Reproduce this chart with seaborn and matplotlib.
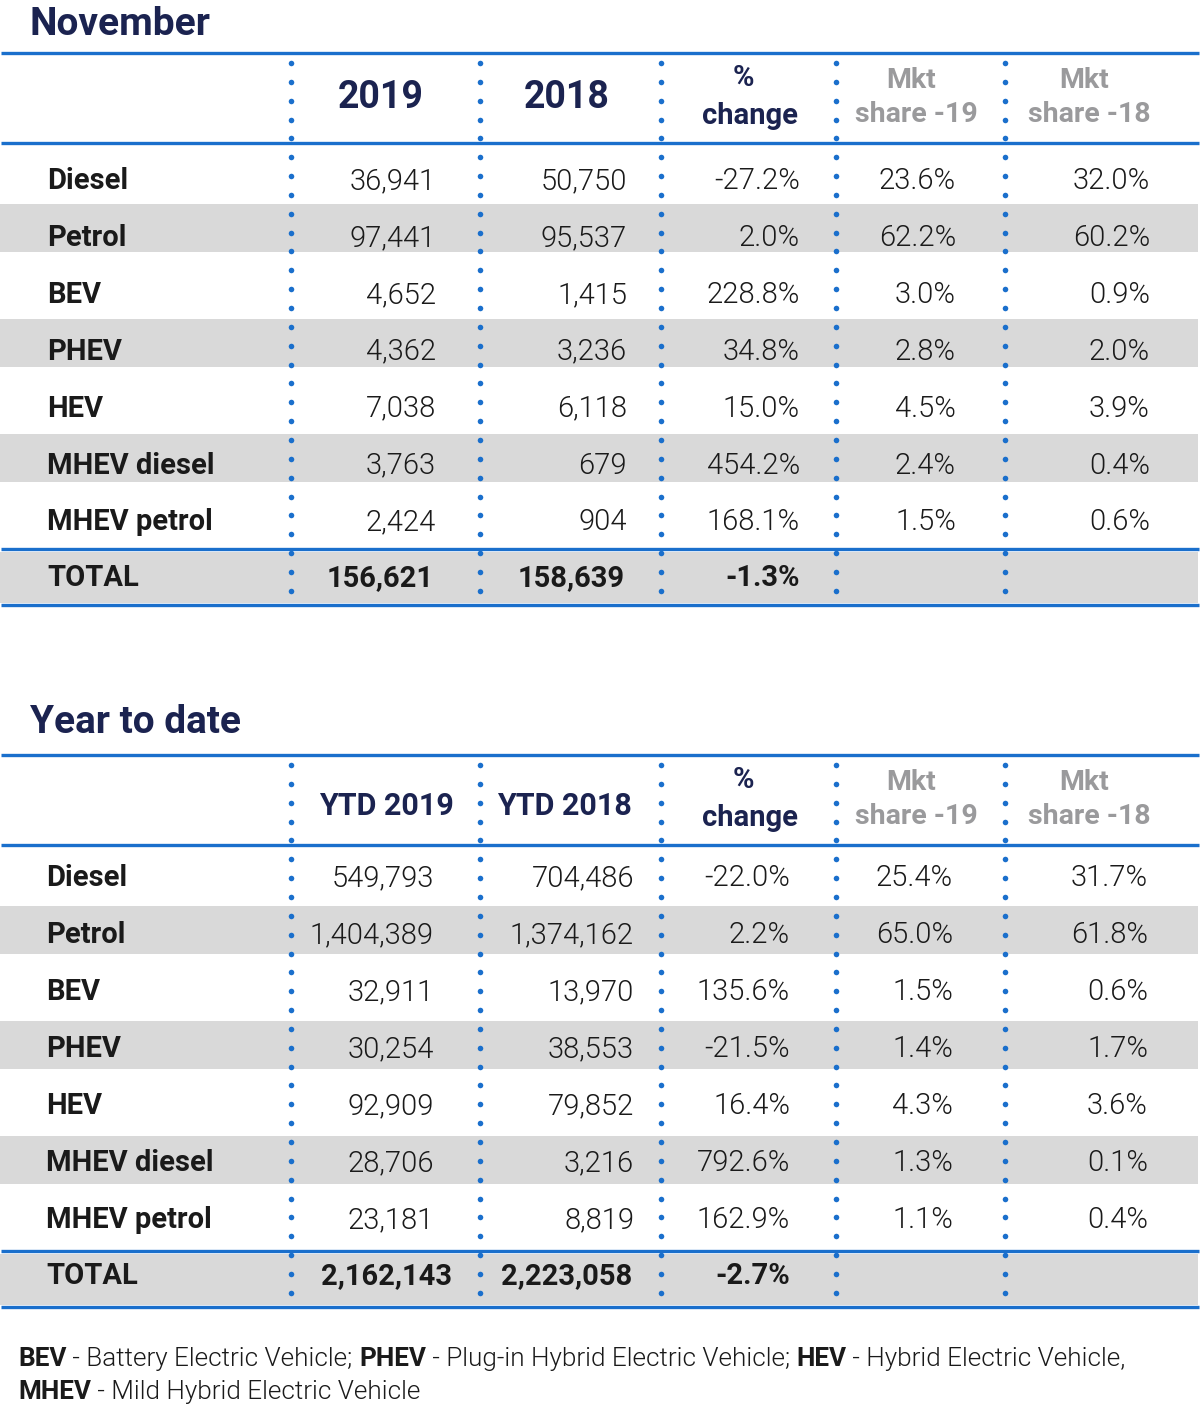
import numpy as np
import pandas as pd
import matplotlib
matplotlib.use("Agg")
import matplotlib.pyplot as plt
import seaborn as sns

# ---------------- data ----------------
categories = ["Diesel", "Petrol", "BEV", "PHEV", "HEV", "MHEV diesel", "MHEV petrol"]
total_label = "TOTAL"

nov_2019 = [36941, 97441, 4652, 4362, 7038, 3763, 2424]
nov_2018 = [50750, 95537, 1415, 3236, 6118, 679, 904]
nov_change = [-27.2, 2.0, 228.8, 34.8, 15.0, 454.2, 168.1]
nov_share_19 = [23.6, 62.2, 3.0, 2.8, 4.5, 2.4, 1.5]
nov_share_18 = [32.0, 60.2, 0.9, 2.0, 3.9, 0.4, 0.6]
nov_total = [156621, 158639, -1.3]

ytd_2019 = [549793, 1404389, 32911, 30254, 92909, 28706, 23181]
ytd_2018 = [704486, 1374162, 13970, 38553, 79852, 3216, 8819]
ytd_change = [-22.0, 2.2, 135.6, -21.5, 16.4, 792.6, 162.9]
ytd_share_19 = [25.4, 65.0, 1.5, 1.4, 4.3, 1.3, 1.1]
ytd_share_18 = [31.7, 61.8, 0.6, 1.7, 3.6, 0.1, 0.4]
ytd_total = [2162143, 2223058, -2.7]

section_titles = ["November", "Year to date"]
nov_headers = ["2019", "2018"]
ytd_headers = ["YTD 2019", "YTD 2018"]
change_header = ["%", "change"]
share_headers = [["Mkt", "share -19"], ["Mkt", "share -18"]]

footnote_lines = [
    [("BEV", True), (" - Battery Electric Vehicle; ", False), ("PHEV", True),
     (" - Plug-in Hybrid Electric Vehicle; ", False), ("HEV", True),
     (" - Hybrid Electric Vehicle,", False)],
    [("MHEV", True), (" - Mild Hybrid Electric Vehicle", False)],
]

# ---------------- style ----------------
sns.set_theme(style="white")
plt.rcParams["font.family"] = ["Roboto", "DejaVu Sans"]

BLUE = "#1a6fcc"
NAVY = "#1b2350"
GREY_TXT = "#9a9a9c"
BAND = "#d9d9d9"
TXT = "#1a1a1a"
LIGHT = 300

W, H = 1200, 1408
fig = plt.figure(figsize=(W / 100, H / 100), dpi=100)
ax = fig.add_axes([0, 0, 1, 1])
ax.set_xlim(0, W)
ax.set_ylim(H, 0)
ax.axis("off")

sep_x = [291, 480, 661, 836, 1005]
PITCH = 57.5
BAND_H = 48


def fmt_int(v):
    return f"{v:,}"


def fmt_pct(v):
    return f"{v:.1f}%"


def draw_section(off, title, title_base, year_headers, year_size, cols, total,
                 right_edges, total_right, text_off, total_off, label_x, hdr_y, hdr_x):
    # title
    ax.text(30, title_base, title, fontsize=28, fontweight="bold",
            color=NAVY, ha="left", va="baseline")
    top_line = 52.5 + off
    hdr_bottom = 143 + off
    row_top0 = 146.5 + off
    n = len(categories)

    # grey bands (alternate rows + total)
    band_rows = [i for i in range(n) if i % 2 == 1]
    ys = [row_top0 + PITCH * i + BAND_H / 2 for i in band_rows]
    heights = [BAND_H] * len(band_rows)
    ys.append(row_top0 + PITCH * n + 2.5 + 51 / 2)
    heights.append(51)
    ax.barh(ys, [1198] * len(ys), height=heights, left=0, color=BAND,
            edgecolor="none", zorder=1)

    # horizontal blue lines
    total_top = row_top0 + PITCH * n
    for y in [top_line, hdr_bottom, total_top, total_top + 56]:
        ax.plot([1, 1199], [y, y], color=BLUE, lw=2.4, zorder=3,
                solid_capstyle="butt")

    # dotted separators
    dot_y = np.arange(63 + off, total_top + 47, 18.85)
    dots = pd.DataFrame([(x, y) for x in sep_x for y in dot_y], columns=["x", "y"])
    sns.scatterplot(data=dots, x="x", y="y", ax=ax, color=BLUE, s=16,
                    linewidth=0, zorder=4, legend=False)
    ax.set_xlim(0, W)
    ax.set_ylim(H, 0)
    ax.axis("off")

    # headers
    ax.text(hdr_x[0], hdr_y, year_headers[0], fontsize=year_size, fontweight="bold",
            color=NAVY, ha="center", va="center")
    ax.text(hdr_x[1], hdr_y, year_headers[1], fontsize=year_size, fontweight="bold",
            color=NAVY, ha="center", va="center")
    ax.text(743, 78 + off, change_header[0], fontsize=21, fontweight="bold",
            color=NAVY, ha="center", va="center")
    ax.text(750, 116 + off, change_header[1], fontsize=21, fontweight="bold",
            color=NAVY, ha="center", va="center")
    for (l1, l2), cx in zip(share_headers, [913, 1086]):
        ax.text(cx - 2, 81 + off, l1, fontsize=20.5, fontweight="bold",
                color=GREY_TXT, ha="center", va="center")
        ax.text(cx + 3, 114 + off, l2, fontsize=20.5, fontweight="bold",
                color=GREY_TXT, ha="center", va="center")

    # body rows
    for i, cat in enumerate(categories):
        yb = row_top0 + PITCH * i + text_off - 0.6 * i + 10.5
        ax.text(label_x, yb, cat, fontsize=21, fontweight="bold", color=TXT,
                ha="left", va="baseline", zorder=5)
        vals = [fmt_int(cols[0][i]), fmt_int(cols[1][i]), fmt_pct(cols[2][i]),
                fmt_pct(cols[3][i]), fmt_pct(cols[4][i])]
        for v, xr in zip(vals, right_edges):
            ax.text(xr, yb, v, fontsize=21, fontweight=LIGHT, color=TXT,
                    ha="right", va="baseline", zorder=5)
    yb = total_top + total_off + 10.5
    ax.text(label_x, yb, total_label, fontsize=21, fontweight="bold", color=TXT,
            ha="left", va="baseline", zorder=5)
    tvals = [fmt_int(total[0]), fmt_int(total[1]), fmt_pct(total[2])]
    for v, xr in zip(tvals, total_right):
        ax.text(xr, yb, v, fontsize=21, fontweight="bold", color=TXT,
                ha="right", va="baseline", zorder=5)


draw_section(0, section_titles[0], 35, nov_headers, 27,
             [nov_2019, nov_2018, nov_change, nov_share_19, nov_share_18],
             nov_total, [436, 627, 800, 956, 1150], [434, 625, 800], 32, 27, 47,
             97, [380.5, 566.5])
draw_section(702, section_titles[1], 733, ytd_headers, 22,
             [ytd_2019, ytd_2018, ytd_change, ytd_share_19, ytd_share_18],
             ytd_total, [434, 634, 790, 953, 1148], [452, 632, 790], 27.5, 22.5, 46,
             806, [386, 564.5])

# ---------------- footnote ----------------
renderer = fig.canvas.get_renderer()


def seg_width(s, bold, size):
    wt = "bold" if bold else LIGHT
    t1 = ax.text(0, 0, "x" + s + "x", fontsize=size, fontweight=wt)
    t2 = ax.text(0, 0, "xx", fontsize=size, fontweight=wt)
    w = t1.get_window_extent(renderer).width - t2.get_window_extent(renderer).width
    t1.remove()
    t2.remove()
    return w


base = 20
w0 = sum(seg_width(s, b, base) for s, b in footnote_lines[0])
size = base * (1124 - 18) / w0
size = min(size, 19)
for line, yb in zip(footnote_lines, [1366, 1399]):
    x = 18
    for s, b in line:
        ax.text(x, yb, s, fontsize=size, fontweight="bold" if b else LIGHT,
                color=TXT, ha="left", va="baseline")
        x += seg_width(s, b, size)

fig.savefig("out.png", dpi=100)
